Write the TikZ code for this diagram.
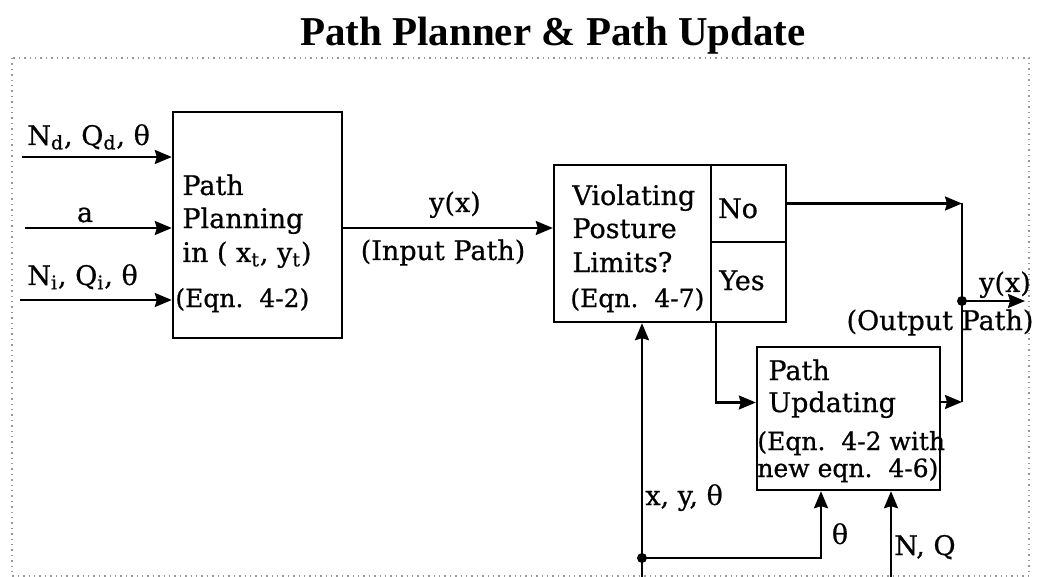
\documentclass[tikz,border=0pt]{standalone}
\usepackage{fontspec}
\setmainfont{DejaVu Serif}[BoldFont={DejaVu Serif}, BoldFeatures={FakeBold=0.7}]
\newfontfamily\titlefont{Liberation Serif}
\usetikzlibrary{arrows.meta,positioning,calc}

\tikzset{
  block/.style={draw, line width=1.2pt, inner sep=0pt},
  flow/.style={line width=1.1pt, -{Stealth[length=8.5pt,width=7pt,inset=1pt]}},
  wire/.style={line width=1.1pt},
  txt/.style={inner sep=0pt, font=\bfseries\fontsize{13.5}{16}\selectfont},
  eqn/.style={inner sep=0pt, font=\bfseries\fontsize{12.5}{15}\selectfont}
}

\begin{document}
\begin{tikzpicture}[x=0.5pt, y=-0.5pt]
    \useasboundingbox (0,0) rectangle (1038,577);

    % Title and frame
    \node[inner sep=0pt, anchor=base, font=\titlefont\bfseries\fontsize{20.5}{24}\selectfont] (title) at (553,46) {Path Planner \& Path Update};
    \draw[dotted, gray!80, line width=0.7pt] (12,58) rectangle (1029,576);

    % Blocks
    \node[block, minimum width=84.5pt, minimum height=113pt] (plan) at (257.5,225) {};
    \node[block, minimum width=78.5pt, minimum height=78.5pt] (viol) at (632.5,243.5) {};
    \node[block, minimum width=37.5pt, minimum height=38.5pt] (no) at (748.5,203.5) {};
    \node[block, minimum width=37.5pt, minimum height=40pt] (yes) at (748.5,282) {};
    \node[block, minimum width=91.5pt, minimum height=71.5pt] (upd) at (848.5,418.5) {};

    % Block texts
    \node[txt, anchor=base west] (plan1) at (182,195) {Path};
    \node[txt, anchor=base west] (plan2) at (182,228) {Planning};
    \node[txt, anchor=base west] (plan3) at (182,262) {in ( x\textsubscript{t}, y\textsubscript{t})};
    \node[eqn, anchor=base west] (plan4) at (175,307) {(Eqn.\ \ 4-2)};

    \node[txt, anchor=base west] (viol1) at (572,205) {Violating};
    \node[txt, anchor=base west] (viol2) at (572,238) {Posture};
    \node[txt, anchor=base west] (viol3) at (572,272) {Limits?};
    \node[eqn, anchor=base west] (viol4) at (570,307) {(Eqn.\ \ 4-7)};

    \node[txt, anchor=base] (nolbl) at (738,218) {No};
    \node[txt, anchor=base] (yeslbl) at (742,290) {Yes};

    \node[txt, anchor=base west] (upd1) at (768,380) {Path};
    \node[txt, anchor=base west] (upd2) at (768,412) {Updating};
    \node[eqn, anchor=base west] (upd3) at (757,450) {(Eqn.\ \ 4-2 with};
    \node[eqn, anchor=base west] (upd4) at (757,477) {new eqn.\ \ 4-6)};

    % Inputs
    \coordinate (inNd) at (22,157);
    \coordinate (inA) at (25,228);
    \coordinate (inNi) at (20,300);
    \draw[flow] (inNd) -- (inNd -| plan.west);
    \draw[flow] (inA) -- (inA -| plan.west);
    \draw[flow] (inNi) -- (inNi -| plan.west);
    \node[txt, anchor=base west] (lblNd) at (27,145) {N\textsubscript{d}, Q\textsubscript{d}, θ};
    \node[txt, anchor=base] (lblA) at (85,222) {a};
    \node[txt, anchor=base west] (lblNi) at (27,285) {N\textsubscript{i}, Q\textsubscript{i}, θ};

    % Input path
    \draw[flow] (inA -| plan.east) -- (inA -| viol.west);
    \node[txt, anchor=base] (lblY) at (455,212) {y(x)};
    \node[txt, anchor=base] (lblIn) at (443,260) {(Input Path)};

    % Yes / No branches
    \coordinate (yesB) at ($(yes.south west)+(6,0)$);
    \draw[flow] (yesB) |- ($(upd.west)+(0,-16)$);
    \coordinate (merge) at (962,402);
    \draw[flow] (upd.east |- merge) -- (merge);
    \draw[flow] (no.east) -- (no.east -| merge);
    \draw[wire] (no.east -| merge) -- (merge);

    % Output path
    \coordinate (outdot) at (962,301);
    \coordinate (outEnd) at (1025,301);
    \fill (outdot) circle (2.5pt);
    \draw[flow] (outdot) -- (outEnd);
    \node[txt, anchor=base] (lblYo) at (1005,292) {y(x)};
    \node[txt, anchor=base] (lblOut) at (940,330) {(Output Path)};

    % Feedback from below
    \coordinate (botS) at (642,577);
    \coordinate (fork) at (642,558);
    \coordinate (forkR) at (821,558);
    \coordinate (botNQ) at (891,577);
    \draw[flow] (botS) -- (botS |- viol.south);
    \fill (fork) circle (2.5pt);
    \draw[flow] (fork) -- (forkR) -- (forkR |- upd.south);
    \draw[flow] (botNQ) -- (botNQ |- upd.south);
    \node[txt, anchor=base west] (lblXY) at (645,505) {x, y, θ};
    \node[txt, anchor=base] (lblTh) at (840,544) {θ};
    \node[txt, anchor=base west] (lblNQ) at (894,555) {N, Q};

\end{tikzpicture}
\end{document}
